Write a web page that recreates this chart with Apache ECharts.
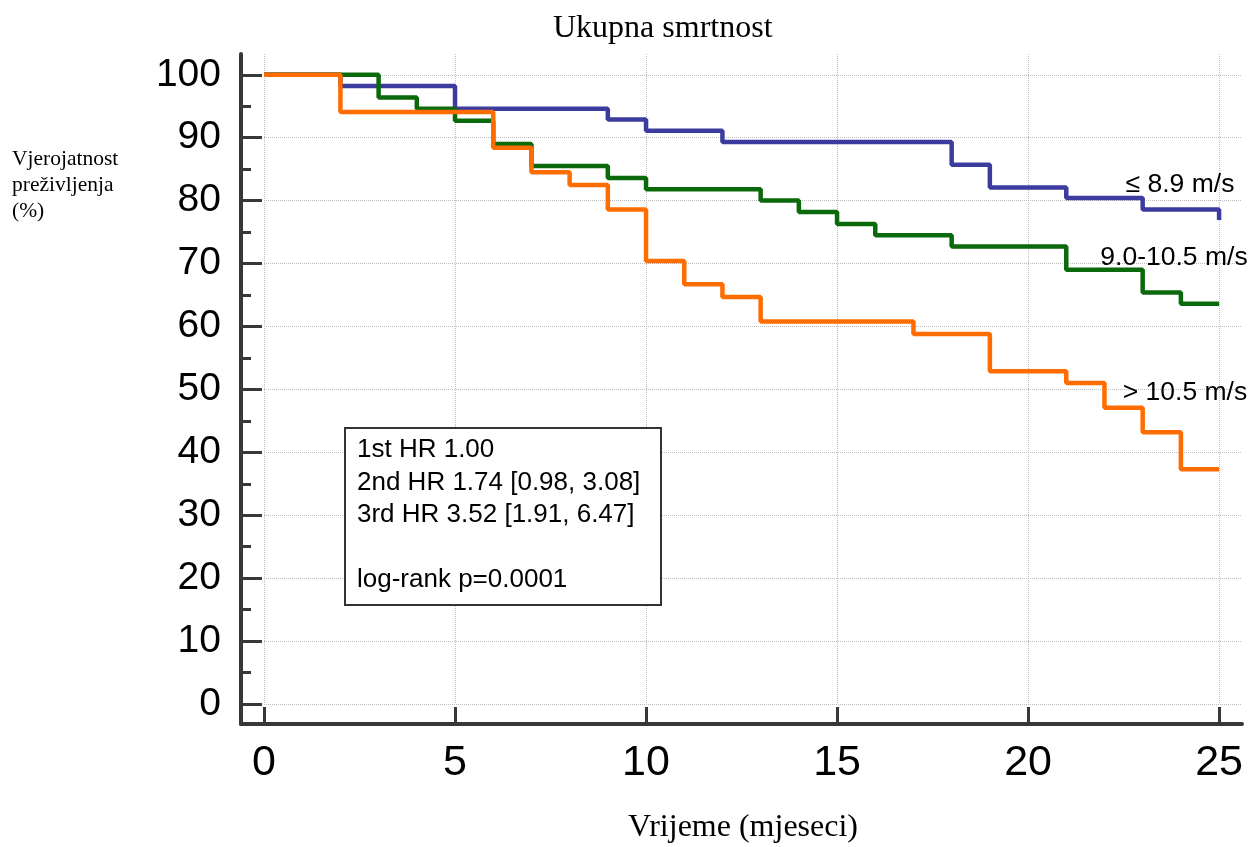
<!DOCTYPE html>
<html>
<head>
<meta charset="utf-8">
<script src="https://cdn.jsdelivr.net/npm/echarts@6/dist/echarts.min.js"></script>
<style>
html,body{margin:0;padding:0;background:#fff;}
#chart{width:1253px;height:847px;}
</style>
</head>
<body>
<div id="chart"></div>
<script>
// ---- data ----
const titleText = 'Ukupna smrtnost';
const xAxisName = 'Vrijeme (mjeseci)';
const yAxisName = 'Vjerojatnost\npreživljenja\n(%)';
const xTicks = [0, 5, 10, 15, 20, 25];
const yTicks = [0, 10, 20, 30, 40, 50, 60, 70, 80, 90, 100];

const seriesNames = ['\u2264 8.9 m/s', '9.0-10.5 m/s', '> 10.5 m/s'];

const lowTimes = [0, 2, 5, 9, 10, 12, 18, 19, 21, 23, 25];
const lowSurv  = [100, 98.2, 94.6, 92.9, 91.1, 89.3, 85.7, 82.1, 80.4, 78.6, 76.9];

const midTimes = [0, 3, 4, 5, 6, 7, 9, 10, 13, 14, 15, 16, 18, 21, 23, 24, 25];
const midSurv  = [100, 96.4, 94.6, 92.7, 89.0, 85.5, 83.6, 81.8, 80.0, 78.2, 76.3, 74.5, 72.7, 69.0, 65.4, 63.6, 63.6];

const highTimes = [0, 2, 6, 7, 8, 9, 10, 11, 12, 13, 17, 19, 21, 22, 23, 24, 25];
const highSurv  = [100, 94.1, 88.4, 84.5, 82.5, 78.6, 70.4, 66.7, 64.7, 60.8, 58.8, 52.9, 51.0, 47.1, 43.2, 37.3, 37.3];

const statsLines = ['1st HR 1.00', '2nd HR 1.74 [0.98, 3.08]', '3rd HR 3.52 [1.91, 6.47]', '', 'log-rank p=0.0001'];

// ---- build ----
function pairs(t, s) { return t.map((v, i) => [v, s[i]]); }
const colors = ['#3c3c9e', '#0a690a', '#ff6d00'];
const sans = 'Liberation Sans, Arial, sans-serif';
const serif = 'Liberation Serif, Times New Roman, serif';
const axisColor = '#383838';

const chart = echarts.init(document.getElementById('chart'), null, {renderer: 'canvas'});

const option = {
  backgroundColor: '#ffffff',
  animation: false,
  title: {
    text: titleText,
    left: 553, top: 13, padding: 0,
    textStyle: {fontFamily: serif, fontSize: 32, fontWeight: 'normal', color: '#000'}
  },
  grid: [
    {left: 264, right: 11, top: 54, bottom: 143},
    {left: 241, right: 11, top: 54, bottom: 123}
  ],
  xAxis: [
    {
      type: 'value', gridIndex: 0, min: 0, max: 25.6, interval: 5, offset: 20,
      axisLine: {show: false, onZero: false},
      axisTick: {show: true, inside: true, length: 17, customValues: xTicks,
        lineStyle: {color: axisColor, width: 3}},
      axisLabel: {show: true, customValues: xTicks, margin: 18,
        fontFamily: sans, fontSize: 43, color: '#000'},
      splitLine: {show: true, lineStyle: {type: 'dotted', color: '#bcbcbc', width: 1}}
    },
    {
      type: 'value', gridIndex: 1, min: 0, max: 1,
      axisLine: {show: true, onZero: false, lineStyle: {color: axisColor, width: 4}},
      axisTick: {show: false}, axisLabel: {show: false}, splitLine: {show: false}
    }
  ],
  yAxis: [
    {
      type: 'value', gridIndex: 0, min: 0, max: 103.3, interval: 10, offset: 23,
      axisLine: {show: false, onZero: false},
      axisTick: {show: true, inside: true, length: 21, customValues: yTicks,
        lineStyle: {color: axisColor, width: 3}},
      minorTick: {show: true, splitNumber: 2, length: 10,
        lineStyle: {color: axisColor, width: 3}},
      axisLabel: {show: true, customValues: yTicks, margin: 20,
        fontFamily: sans, fontSize: 39, color: '#000'},
      splitLine: {show: true, lineStyle: {type: 'dotted', color: '#bcbcbc', width: 1}}
    },
    {
      type: 'value', gridIndex: 1, min: 0, max: 1,
      axisLine: {show: true, onZero: false, lineStyle: {color: axisColor, width: 4}},
      axisTick: {show: false}, axisLabel: {show: false}, splitLine: {show: false}
    }
  ],
  series: [
    {name: seriesNames[0], type: 'line', step: 'end', xAxisIndex: 0, yAxisIndex: 0,
     data: pairs(lowTimes, lowSurv), showSymbol: false, symbol: 'none',
     lineStyle: {color: colors[0], width: 4.5}, itemStyle: {color: colors[0]}, z: 3},
    {name: seriesNames[1], type: 'line', step: 'end', xAxisIndex: 0, yAxisIndex: 0,
     data: pairs(midTimes, midSurv), showSymbol: false, symbol: 'none',
     lineStyle: {color: colors[1], width: 4.5}, itemStyle: {color: colors[1]}, z: 4},
    {name: seriesNames[2], type: 'line', step: 'end', xAxisIndex: 0, yAxisIndex: 0,
     data: pairs(highTimes, highSurv), showSymbol: false, symbol: 'none',
     lineStyle: {color: colors[2], width: 4.5}, itemStyle: {color: colors[2]}, z: 5}
  ],
  graphic: [
    {type: 'text', left: 12, top: 146, z: 10,
     style: {text: yAxisName, font: '21.5px ' + serif, fill: '#000', lineHeight: 26}},
    {type: 'text', x: 743, y: 828, z: 10,
     style: {text: xAxisName, font: '32px ' + serif, fill: '#000', align: 'center', verticalAlign: 'middle'}},
    {type: 'text', x: 1180, y: 185, z: 10,
     style: {text: seriesNames[0], font: '26.5px ' + sans, fill: '#000', align: 'center', verticalAlign: 'middle'}},
    {type: 'text', x: 1174, y: 258, z: 10,
     style: {text: seriesNames[1], font: '26.5px ' + sans, fill: '#000', align: 'center', verticalAlign: 'middle'}},
    {type: 'text', x: 1185, y: 393, z: 10,
     style: {text: seriesNames[2], font: '26.5px ' + sans, fill: '#000', align: 'center', verticalAlign: 'middle'}},
    {type: 'rect', z: 20, shape: {x: 345, y: 428, width: 316, height: 177},
     style: {fill: '#fff', stroke: '#333', lineWidth: 2}},
    {type: 'text', x: 357, y: 434, z: 21,
     style: {text: statsLines.join('\n'), font: '26px ' + sans, fill: '#000', lineHeight: 32.5}}
  ]
};
chart.setOption(option);
</script>
</body>
</html>
